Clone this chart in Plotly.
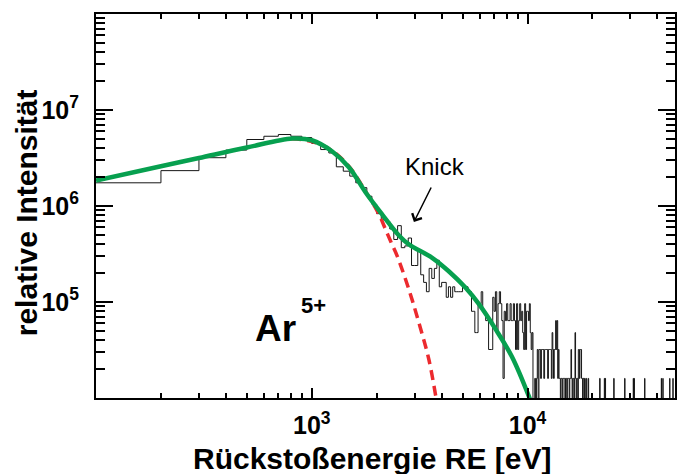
import numpy as np
import plotly.graph_objects as go

# ---- histogram: counts per 100 eV bin of recoil energy ----
BIN_WIDTH = 100            # eV
COUNT_SCALE = 1.6e4        # relative intensity per count

# bins starting at 100, 200, ..., 4900 eV
counts_low = [109, 146, 199, 239, 308, 333, 347, 333, 323, 280,
              242, 223, 160, 144, 128, 109, 97, 79, 65, 52,
              45, 43, 36, 28, 39, 23, 24, 29, 15, 15,
              22, 12, 10, 8, 14, 11, 14, 17, 9, 10,
              10, 7, 9, 7, 9, 8, 8, 8, 8]
# bins starting at 5000 ... 9900 eV
counts_mid = [9, 9, 9, 8, 8, 5, 5, 3, 3, 6,
              6, 8, 5, 5, 4, 4, 2, 2, 2, 7,
              5, 8, 3, 6, 8, 6, 4, 1, 5, 4,
              6, 4, 4, 6, 4, 4, 6, 4, 2, 6,
              2, 4, 6, 4, 5, 3, 2, 6, 2, 5]
# bins starting at 10000 ... 18900 eV
counts_high = [5, 4, 6, 3, 2, 3, 0, 0, 1, 0,
               1, 2, 0, 2, 2, 1, 2, 2, 2, 1,
               2, 2, 2, 2, 1, 2, 2, 2, 2, 1,
               3, 2, 1, 2, 2, 4, 2, 4, 1, 2,
               1, 1, 0, 1, 1, 0, 1, 1, 1, 0,
               1, 1, 0, 1, 1, 1, 0, 1, 1, 2,
               1, 0, 1, 1, 0, 1, 3, 1, 0, 1,
               1, 0, 2, 2, 1, 2, 2, 2, 1, 1,
               0, 1, 1, 0, 1, 0, 0, 1, 0, 0]
# isolated single-count bins above 19 keV (bin start, eV)
tail_single_bins = [19100, 21600, 22700, 22900, 25100, 28200, 30900,
                    31200, 34900, 41700, 42400, 45600, 47200]
HIST_END = 48400

# ---- fit curves (energy in eV, log10 of relative intensity) ----
fit_total_E = [100, 200, 300, 500, 813, 1000, 1245, 1490, 1778, 2122,
               2536, 2818, 3614, 4315, 5153, 5945, 7100, 8470, 10220, 10600]
fit_total_logI = [6.266, 6.414, 6.50, 6.609, 6.703, 6.685, 6.568, 6.401, 6.141, 5.911,
                  5.693, 5.60, 5.46, 5.32, 5.15, 4.98, 4.72, 4.43, 4.0, 3.9]

fit_main_E = [800, 1000, 1245, 1490, 1778, 2051, 2203, 2323, 2490, 2820, 3138, 3490, 3800]
fit_main_logI = [6.70, 6.672, 6.575, 6.41, 6.15, 5.911, 5.75, 5.63, 5.477, 5.13, 4.783, 4.401, 3.95]

# ---- axis ticks ----
x_major = [1e3, 1e4]
x_major_text = ["10<sup>3</sup>", "10<sup>4</sup>"]
y_major = [1e5, 1e6, 1e7]
y_major_text = ["10<sup>5</sup>", "10<sup>6</sup>", "10<sup>7</sup>"]

FONT = "Liberation Sans, Arial, Helvetica, sans-serif"

# assemble the histogram on the full bin grid
bin_starts = np.arange(100, HIST_END, BIN_WIDTH)
counts = np.zeros(len(bin_starts))
counts[0:len(counts_low)] = counts_low
i_mid = int((5000 - 100) / BIN_WIDTH)
counts[i_mid:i_mid + len(counts_mid)] = counts_mid
i_high = int((10000 - 100) / BIN_WIDTH)
counts[i_high:i_high + len(counts_high)] = counts_high
for e in tail_single_bins:
    counts[int((e - 100) / BIN_WIDTH)] = 1

intensity = counts * COUNT_SCALE
# empty bins fall far below the axis so the step drops out of the frame
intensity[counts == 0] = 1.0
hist_x = np.append(bin_starts, bin_starts[-1] + BIN_WIDTH)
hist_y = np.append(intensity, intensity[-1])

fig = go.Figure()
fig.add_trace(go.Scatter(
    x=hist_x, y=hist_y, mode="lines", line_shape="hv",
    line=dict(color="#161616", width=1), hoverinfo="skip"))
fig.add_trace(go.Scatter(
    x=fit_main_E, y=[10 ** v for v in fit_main_logI], mode="lines",
    line=dict(color="#EC2A2E", width=3.5, dash="10px,6px", shape="spline"),
    hoverinfo="skip"))
fig.add_trace(go.Scatter(
    x=fit_total_E, y=[10 ** v for v in fit_total_logI], mode="lines",
    line=dict(color="#07A04F", width=4.5, shape="spline"),
    hoverinfo="skip"))

x_minor = [m * 10 ** d for d in (2, 3, 4) for m in range(2, 10) if m * 10 ** d < 5e4]
y_minor = [m * 10 ** d for d in (4, 5, 6, 7) for m in range(2, 10)]

axis_common = dict(
    type="log", showline=True, linecolor="black", linewidth=2,
    mirror="ticks", ticks="inside", tickcolor="black", tickwidth=1.5,
    showgrid=False, zeroline=False,
    tickfont=dict(family=FONT, size=25, color="black", weight="bold"),
)

fig.update_xaxes(
    **axis_common, range=[2, 2 + 581 / 216.5],
    tickmode="array", tickvals=x_major, ticktext=x_major_text,
    ticklen=10, ticklabelstandoff=4,
    minor=dict(tickmode="array", tickvals=x_minor, ticks="inside",
               ticklen=5, tickwidth=1.5, tickcolor="black", showgrid=False))
fig.update_yaxes(
    **axis_common, range=[4, 8],
    tickmode="array", tickvals=y_major, ticktext=y_major_text,
    ticklen=17, ticklabelstandoff=10,
    minor=dict(tickmode="array", tickvals=y_minor, ticks="inside",
               ticklen=9, tickwidth=1.5, tickcolor="black", showgrid=False))


def px_x(p):
    return (p - 96) / 581


def px_y(p):
    return (398 - p) / 384


annotations = [
    dict(text="<b>Rückstoßenergie RE [eV]</b>", x=px_x(373), y=px_y(458),
         font=dict(family=FONT, size=30, color="black")),
    dict(text="<b>relative Intensität</b>", x=px_x(26), y=px_y(213), textangle=-90,
         font=dict(family=FONT, size=30, color="black")),
    dict(text="<b>Ar</b>", x=px_x(276.5), y=px_y(328.5),
         font=dict(family=FONT, size=37, color="black")),
    dict(text="<b>5+</b>", x=px_x(314), y=px_y(305),
         font=dict(family=FONT, size=22, color="black")),
    dict(text="Knick", x=px_x(436), y=px_y(166.5),
         font=dict(family=FONT, size=24, color="black")),
]
for a in annotations:
    a.update(xref="paper", yref="paper", xanchor="center", yanchor="middle",
             showarrow=False)

annotations.append(dict(
    text="", xref="paper", yref="paper", x=px_x(415), y=px_y(222),
    ax=18, ay=-36, showarrow=True, arrowhead=4, arrowsize=1.4,
    arrowwidth=1.5, arrowcolor="black"))

fig.update_layout(
    width=677, height=474,
    margin=dict(l=96, r=0, t=14, b=76),
    plot_bgcolor="white", paper_bgcolor="white",
    showlegend=False, annotations=annotations,
    font=dict(family=FONT, color="black"),
)

fig.write_html("out.html")
